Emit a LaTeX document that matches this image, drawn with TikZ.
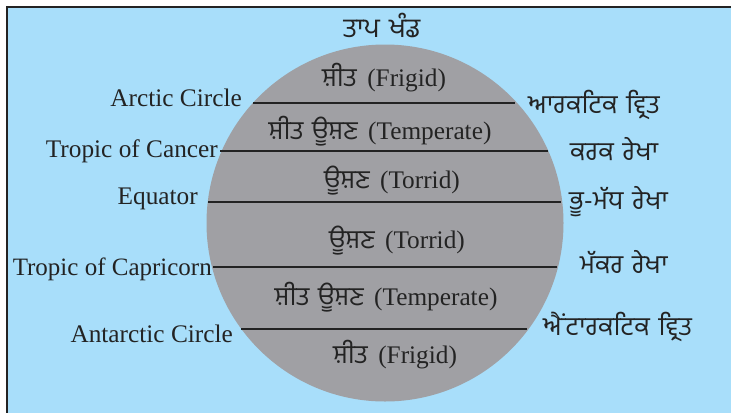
\documentclass[tikz,border=0pt]{standalone}
\usepackage{fontspec}
\setmainfont{Liberation Serif}
\newfontfamily\gur[Script=Gurmukhi,WordSpace=1.4]{Hind Jalandhar}
\definecolor{sky}{RGB}{168,222,250}
\definecolor{globecol}{RGB}{160,160,164}
\definecolor{ink}{RGB}{35,35,35}
\newcommand{\gz}[1]{{\gur\fontsize{26}{30}\selectfont #1}}
\begin{document}
\begin{tikzpicture}[x=1pt,y=-1pt,
  lat/.style={draw=ink,line width=2pt},
  eng/.style={font=\fontsize{25.3}{30}\selectfont,text=ink,inner sep=0pt,anchor=base east},
  pun/.style={font=\gur\fontsize{26}{30}\selectfont,text=ink,inner sep=0pt,anchor=base west},
  zone/.style={font=\fontsize{25.3}{30}\selectfont,text=ink,inner sep=0pt,anchor=base}]
\useasboundingbox (0,0) rectangle (731,413);
\fill[white] (0,0) rectangle (731,413);
\fill[sky] (7,7) rectangle (731,413);
\draw[ink,line width=2pt] (731,7) -- (7,7) -- (7,413);
\node[circle,fill=globecol,minimum size=357pt,inner sep=0pt] (globe) at (385,223) {};
% title
\node[font=\gur\fontsize{27}{30}\selectfont,text=ink,inner sep=0pt,anchor=base] (title) at (382,37) {ਤਾਪ ਖੰਡ};
% latitude lines
\coordinate (arcL) at (253,103); \coordinate (arcR) at (515,103);
\coordinate (canL) at (220,151); \coordinate (canR) at (548,151);
\coordinate (equL) at (208,202); \coordinate (equR) at (561,202);
\coordinate (capL) at (213,267); \coordinate (capR) at (557,267);
\coordinate (antL) at (241,329); \coordinate (antR) at (527,329);
\draw[lat] (arcL) -- (arcR);
\draw[lat] (canL) -- (canR);
\draw[lat] (equL) -- (equR);
\draw[lat] (capL) -- (capR);
\draw[lat] (antL) -- (antR);
% left labels
\node[eng] (arcE) at (242,106.5) {Arctic Circle};
\node[eng] (canE) at (218,157) {Tropic of Cancer};
\node[eng] (equE) at (198,204) {Equator};
\node[eng,font=\fontsize{25}{30}\selectfont] (capE) at (212,275) {Tropic of Capricorn};
\node[eng] (antE) at (233,342.5) {Antarctic Circle};
% right labels
\node[pun] (arcP) at (528,113) {ਆਰਕਟਿਕ ਵ੍ਰਿਤ};
\node[pun] (canP) at (570,160) {ਕਰਕ ਰੇਖਾ};
\node[pun] (equP) at (569,209) {ਭੂ-ਮੱਧ ਰੇਖਾ};
\node[pun] (capP) at (580,273) {ਮੱਕਰ ਰੇਖਾ};
\node[pun] (antP) at (543,335) {ਐਂਟਾਰਕਟਿਕ ਵ੍ਰਿਤ};
% zones
\node[zone] (z1) at (384,86.5) {\gz{ਸ਼ੀਤ}\, (Frigid)};
\node[zone] (z2) at (380,139) {\gz{ਸ਼ੀਤ ਊਸ਼ਣ}\, (Temperate)};
\node[zone] (z3) at (392,188) {\gz{ਊਸ਼ਣ}\, (Torrid)};
\node[zone] (z4) at (397,248) {\gz{ਊਸ਼ਣ}\, (Torrid)};
\node[zone] (z5) at (386,305) {\gz{ਸ਼ੀਤ ਊਸ਼ਣ}\, (Temperate)};
\node[zone] (z6) at (395,363) {\gz{ਸ਼ੀਤ}\, (Frigid)};
\end{tikzpicture}
\end{document}
